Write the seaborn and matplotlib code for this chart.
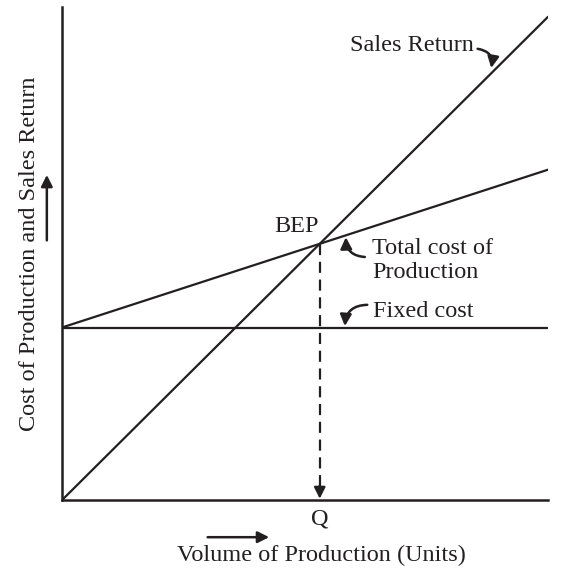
import numpy as np
import pandas as pd
import seaborn as sns
import matplotlib.pyplot as plt

# break-even chart data (arbitrary units)
volume = [0, 100]
sales_return = [0, 98]
total_cost = [35, 67]
fixed_cost = [35, 35]

sns.set_style("white")
plt.rcParams['font.family'] = ['Liberation Serif', 'DejaVu Serif']

ink = '#231f20'

df = pd.DataFrame({'volume': volume * 3,
                   'value': sales_return + total_cost + fixed_cost,
                   'line': ['Sales Return'] * 2 + ['Total cost'] * 2 + ['Fixed cost'] * 2})

fig = plt.figure(figsize=(5.68, 5.71), dpi=100)
ax = fig.add_axes([0.109, 0.124, 0.856, 0.864])

sns.lineplot(data=df, x='volume', y='value', units='line', estimator=None,
             color=ink, linewidth=1.6, ax=ax, legend=False)

ax.set_xlim(0, 100)
ax.set_ylim(0, 100)
ax.set_xticks([])
ax.set_yticks([])
sns.despine(ax=ax)
for side in ['left', 'bottom']:
    ax.spines[side].set_linewidth(1.8)
    ax.spines[side].set_color(ink)

# break-even point from the two lines
s_slope = (sales_return[1] - sales_return[0]) / (volume[1] - volume[0])
c_slope = (total_cost[1] - total_cost[0]) / (volume[1] - volume[0])
bep_x = (total_cost[0] - sales_return[0]) / (s_slope - c_slope)
bep_y = sales_return[0] + s_slope * bep_x

ax.plot([bep_x, bep_x], [bep_y, 2], color=ink, lw=1.6, ls=(0, (5, 3)))
ax.annotate('', xy=(bep_x, 0.3), xytext=(bep_x, 3),
            arrowprops=dict(arrowstyle='-|>', color=ink, lw=1.6, mutation_scale=17,
                            shrinkA=0, shrinkB=0))

fs = 17.5
arrow_kw = dict(arrowstyle='-|>', color=ink, lw=1.8, mutation_scale=17,
                shrinkA=0, shrinkB=0)

ax.text(bep_x - 4.8, bep_y + 3.5, 'BEP', fontsize=fs, ha='center', va='center', color=ink)
ax.text(bep_x, -3.9, 'Q', fontsize=fs, ha='center', va='center', color=ink, clip_on=False)

# labels with curved arrows
ax.text(84.8, 92.2, 'Sales Return', fontsize=fs, ha='right', va='center', color=ink)
ax.annotate('', xy=(88.3, 87.6), xytext=(85.5, 91.5),
            arrowprops=dict(connectionstyle='arc3,rad=-0.5', **arrow_kw))

ax.text(63.8, 48.6, 'Total cost of\nProduction', fontsize=fs, ha='left', va='center',
        color=ink, linespacing=1.2)
ax.annotate('', xy=(58.4, 53.3), xytext=(62.3, 49.3),
            arrowprops=dict(connectionstyle='arc3,rad=-0.45', **arrow_kw))

ax.text(64.0, 38.3, 'Fixed cost', fontsize=fs, ha='left', va='center', color=ink)
ax.annotate('', xy=(58.2, 35.3), xytext=(62.8, 39.6),
            arrowprops=dict(connectionstyle='arc3,rad=0.45', **arrow_kw))

ax.set_xlabel('Volume of Production (Units)', fontsize=fs, color=ink, labelpad=32)
ax.xaxis.label.set_x(0.533)
ax.set_ylabel('Cost of Production and Sales Return', fontsize=fs, color=ink, labelpad=16)

# direction arrows next to the axis titles
ax.annotate('', xy=(0.432, -0.075), xytext=(0.294, -0.075), xycoords='axes fraction',
            arrowprops=dict(arrowstyle='-|>', color=ink, lw=1.8, mutation_scale=17))
ax.annotate('', xy=(-0.031, 0.665), xytext=(-0.031, 0.521), xycoords='axes fraction',
            arrowprops=dict(arrowstyle='-|>', color=ink, lw=1.8, mutation_scale=17))

fig.savefig('out.png', dpi=100)
